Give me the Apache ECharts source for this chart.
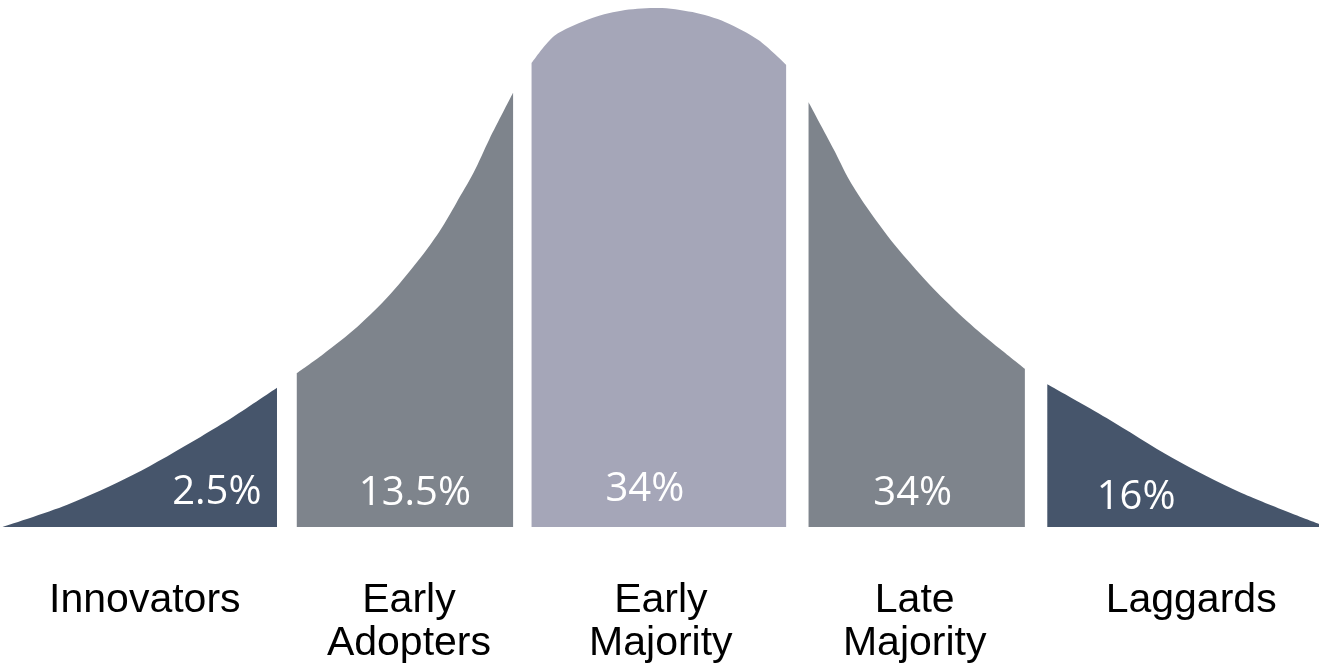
<!DOCTYPE html>
<html>
<head>
<meta charset="utf-8">
<script src="https://cdn.jsdelivr.net/npm/echarts@6/dist/echarts.min.js"></script>
<style>
html,body{margin:0;padding:0;background:#fff;}
#chart{width:1319px;height:668px;}
</style>
</head>
<body>
<div id="chart"></div>
<script>
// Categories and shares
const categories = ['Innovators', 'Early\nAdopters', 'Early\nMajority', 'Late\nMajority', 'Laggards'];
const shares = ['2.5%', '13.5%', '34%', '34%', '16%'];

// Curve samples per segment: [position (0-100 across the bell), relative height (peak ≈ 100)]
const innovators = [[0.2, 0], [5.1, 4.2], [10.1, 9.9], [15.2, 17.1], [17.7, 20.9], [21.0, 26.4]];
const earlyAdopters = [[22.5, 29.2], [24.5, 32.8], [27.1, 38.0], [29.6, 44.2], [32.1, 51.8], [33.4, 56.4], [34.6, 61.5], [35.9, 67.2], [37.1, 73.6], [38.9, 82.4]];
const earlyMajority = [[40.3, 88.0], [41.3, 91.3], [42.3, 93.7], [44.9, 96.6], [47.4, 98.1], [49.9, 98.5], [52.5, 97.7], [55.0, 95.8], [57.5, 92.4], [59.6, 87.7]];
const lateMajority = [[61.3, 80.6], [63.2, 71.7], [64.4, 65.8], [65.7, 60.7], [67.0, 56.2], [68.2, 52.4], [70.7, 45.4], [73.3, 39.1], [75.8, 33.8], [77.7, 30.0]];
const laggards = [[79.4, 27.1], [83.9, 20.7], [88.9, 13.1], [94.0, 6.6], [100, 0.6]];

const segments = [innovators, earlyAdopters, earlyMajority, lateMajority, laggards];

// Styles (kept apart from data)
const colors = ['#46556b', '#7e848c', '#a5a6b8', '#7e848c', '#46556b'];
const pctOffsets = [[77, -34], [10, -33], [-14, -37], [-4, -33], [-47, -29]];
const catOffsets = [[5, 52], [4, 52], [2, 52], [-2, 52], [8, 52]];

const centers = segments.map(s => [(s[0][0] + s[s.length - 1][0]) / 2, 0]);

const series = segments.map((seg, i) => ({
  type: 'line',
  data: seg,
  smooth: 0.3,
  symbol: 'none',
  lineStyle: { width: 0 },
  areaStyle: { color: colors[i], opacity: 1 },
  itemStyle: { color: colors[i] },
  silent: true,
  z: 2
}));

series.push({
  type: 'scatter',
  symbolSize: 0,
  z: 5,
  clip: false,
  silent: true,
  itemStyle: { opacity: 1 },
  data: centers.map((c, i) => ({
    value: c,
    label: {
      show: true,
      position: 'inside',
      offset: pctOffsets[i],
      formatter: shares[i],
      color: '#ffffff',
      opacity: 1,
      fontFamily: '"Open Sans", sans-serif',
      fontSize: 40,
      align: 'center',
      verticalAlign: 'middle'
    }
  }))
});

series.push({
  type: 'scatter',
  symbolSize: 0,
  z: 5,
  clip: false,
  silent: true,
  itemStyle: { opacity: 1 },
  data: centers.map((c, i) => ({
    value: c,
    label: {
      show: true,
      position: 'inside',
      offset: catOffsets[i],
      formatter: categories[i],
      color: '#000000',
      opacity: 1,
      fontFamily: '"Liberation Sans", Arial, sans-serif',
      fontSize: 41,
      lineHeight: 43,
      align: 'center',
      verticalAlign: 'top'
    }
  }))
});

const chart = echarts.init(document.getElementById('chart'), null, { renderer: 'canvas' });
chart.setOption({
  animation: false,
  backgroundColor: '#ffffff',
  grid: { left: 0, right: 0, top: 0, bottom: 141 },
  xAxis: { type: 'value', min: 0, max: 100, show: false },
  yAxis: { type: 'value', min: 0, max: 100, show: false },
  series: series
});
</script>
</body>
</html>
